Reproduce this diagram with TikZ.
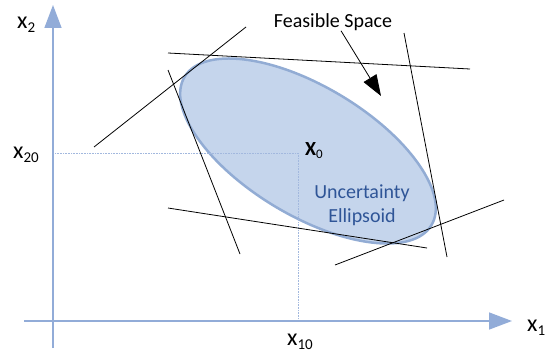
\documentclass[tikz,border=0pt]{standalone}
\usepackage{fontspec}
\setmainfont{Carlito}
\usetikzlibrary{arrows.meta, positioning}

\definecolor{axisblue}{RGB}{146,172,216}
\definecolor{ellfill}{RGB}{197,213,236}
\definecolor{elledge}{RGB}{146,172,212}
\definecolor{textblue}{RGB}{47,85,151}

\newcommand{\axidx}[1]{\raisebox{-4pt}{\fontsize{15}{15}\selectfont #1}}

\begin{document}
\begin{tikzpicture}[
  x=1pt, y=-1pt,
  font=\fontsize{20}{24}\selectfont,
  axis/.style={draw=axisblue, line width=1.5pt, -{Triangle[length=23pt, width=17pt]}},
  guide/.style={draw=axisblue!85, densely dotted, line width=0.6pt},
  bound/.style={draw=black, line width=0.8pt},
  axlabel/.style={anchor=base west, inner sep=0pt, font=\fontsize{24}{24}\selectfont},
  pointer/.style={-{Triangle[length=21pt, width=15pt]}, line width=0.8pt}
]
\useasboundingbox (0,0) rectangle (548,353);

% axes
\coordinate (ybot) at (53,348);
\coordinate (ytop) at (53,5);
\coordinate (xleft) at (24,321);
\coordinate (xright) at (512,321);
\coordinate (xnought) at (298,153);
\coordinate (gleft) at (55,153);
\coordinate (gbot) at (298,320);

% uncertainty ellipsoid
\filldraw[fill=ellfill, draw=elledge, line width=2.5pt, rotate around={-31:(308,151)}]
  (308,151) ellipse [x radius=144, y radius=64.5];

\draw[guide] (gleft) -- (xnought) -- (gbot);
\draw[axis] (ybot) -- (ytop);
\draw[axis] (xleft) -- (xright);

% constraints
\draw[bound] (168,53) -- (470,69);
\draw[bound] (94,147) -- (246,27);
\draw[bound] (168,70) -- (240,254);
\draw[bound] (404,33) -- (447,257);
\draw[bound] (168,208) -- (427,248);
\draw[bound] (335,265) -- (504,200);

% labels
\node[axlabel] (xtwo) at (17,29) {x\axidx{2}};
\node[axlabel] (xtwenty) at (13,158) {x\axidx{20}};
\node[axlabel] (xten) at (287,345) {x\axidx{10}};
\node[axlabel] (xone) at (527,331) {x\axidx{1}};
\node[anchor=base west, inner sep=0pt] (xzero) at (305,155)
  {\textbf{X}\raisebox{-3pt}{\fontsize{13}{13}\selectfont 0}};
\node[align=center, text=textblue] (ell) at (362,205) {Uncertainty\\Ellipsoid};

\node[inner sep=0pt] (feas) at (333,22) {Feasible Space};
\coordinate (feastip) at (381,96);
\draw[pointer] ([xshift=8pt]feas.south) -- (feastip);
\end{tikzpicture}
\end{document}
